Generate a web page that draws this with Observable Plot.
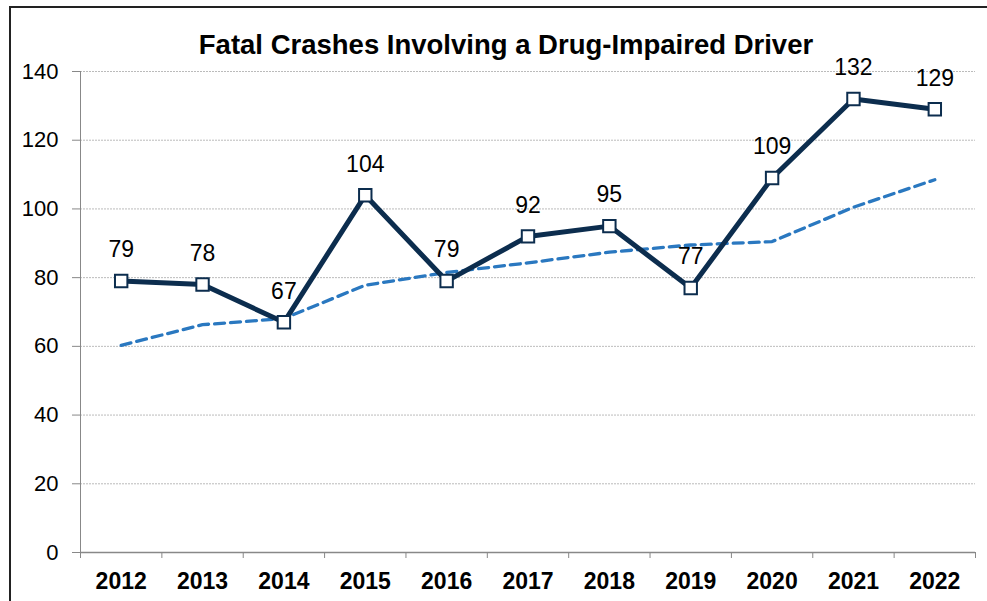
<!DOCTYPE html>
<html>
<head>
<meta charset="utf-8">
<script src="https://cdn.jsdelivr.net/npm/d3@7"></script>
<script src="https://cdn.jsdelivr.net/npm/@observablehq/plot@0.6"></script>
<style>
  html, body { margin: 0; padding: 0; background: #fff; }
  #wrap { position: relative; width: 987px; height: 601px; overflow: hidden; font-family: "Liberation Sans", Arial, sans-serif; }
  #frame { position: absolute; left: 9px; top: 6px; width: 1000px; height: 700px; border-left: 2px solid #222; border-top: 2px solid #222; }
  #title { position: absolute; left: 0; width: 1012px; top: 31px; line-height: 28px; text-align: center; font-weight: bold; font-size: 27.5px; color: #000; }
  #chart { position: absolute; left: 0; top: 0; }
</style>
</head>
<body>
<div id="wrap">
  <div id="chart"></div>
  <div id="frame"></div>
  <div id="title">Fatal Crashes Involving a Drug-Impaired Driver</div>
</div>
<script>
const years = [2012, 2013, 2014, 2015, 2016, 2017, 2018, 2019, 2020, 2021, 2022];
const crashes = [79, 78, 67, 104, 79, 92, 95, 77, 109, 132, 129];
const trend = [60.3, 66.3, 68.1, 77.8, 81.5, 84.3, 87.4, 89.5, 90.5, 100.5, 108.5];
const yTicks = [0, 20, 40, 60, 80, 100, 120, 140];

const data = years.map((y, i) => ({year: y, value: crashes[i], trend: trend[i]}));
const boundaries = [years[0] - 0.5, ...years.map(y => y + 0.5)];

const navy = "#0c2d4e";
const blue = "#2a78c0";

const chart = Plot.plot({
  width: 987,
  height: 601,
  marginLeft: 80,
  marginRight: 12,
  marginTop: 71,
  marginBottom: 49,
  style: {fontFamily: "'Liberation Sans', Arial, sans-serif", background: "transparent", color: "#000"},
  x: {domain: [years[0] - 0.5, years[years.length - 1] + 0.5]},
  y: {domain: [0, 140]},
  marks: [
    Plot.gridY(yTicks.filter(d => d > 0), {stroke: "#aaa", strokeOpacity: 0.8, strokeDasharray: "2,1"}),
    Plot.axisY({ticks: yTicks, tickSize: 8, tickPadding: 14, fontSize: 22, label: null, stroke: "#888"}),
    Plot.ruleX([years[0] - 0.5], {stroke: "#888"}),
    Plot.axisX({ticks: boundaries, tickSize: 6, tickFormat: () => "", label: null, stroke: "#888"}),
    Plot.axisX({ticks: years, tickSize: 0, tickPadding: 20, tickFormat: d => String(d), fontSize: 23, fontWeight: "bold", label: null}),
    Plot.ruleY([0], {stroke: "#888", strokeWidth: 1.5}),
    Plot.line(data, {x: "year", y: "trend", stroke: blue, strokeWidth: 3.3, strokeDasharray: "10,6"}),
    Plot.line(data, {x: "year", y: "value", stroke: navy, strokeWidth: 5}),
    Plot.dot(data, {x: "year", y: "value", symbol: "square", r: 7, fill: "white", stroke: navy, strokeWidth: 2}),
    Plot.text(data, {x: "year", y: "value", text: d => String(d.value), dy: -31, fontSize: 23, fill: "#000"})
  ]
});
document.getElementById("chart").appendChild(chart);
</script>
</body>
</html>
